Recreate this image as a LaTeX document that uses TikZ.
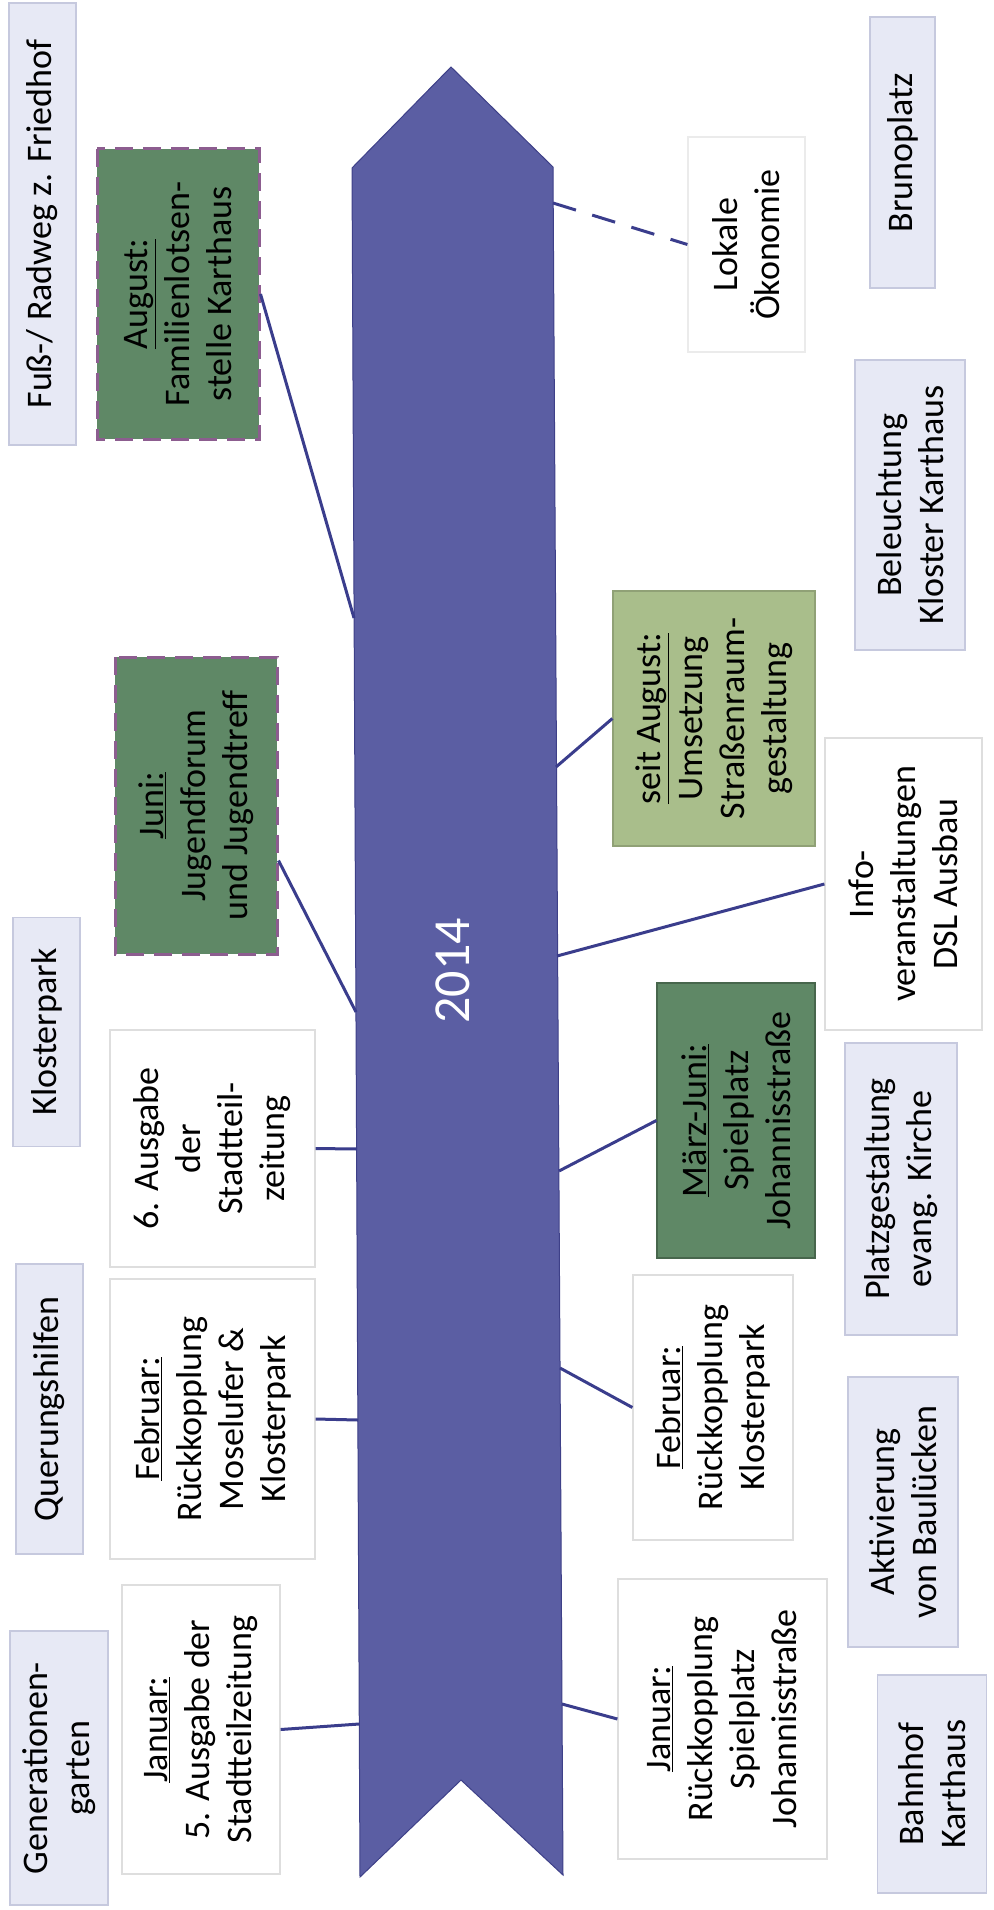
\documentclass[tikz,border=0pt]{standalone}
\usepackage{fontspec}
\setmainfont{Carlito}
\usepackage{tikz}
\usetikzlibrary{calc, positioning}
\definecolor{arrowblue}{HTML}{5B5EA3}
\definecolor{arrowedge}{HTML}{3E4088}
\definecolor{linkblue}{HTML}{3A3D8C}
\definecolor{ideafill}{HTML}{E7E9F5}
\definecolor{ideaborder}{HTML}{C6C9DE}
\definecolor{eventborder}{HTML}{DEDEDE}
\definecolor{darkgreen}{HTML}{5F8866}
\definecolor{lightgreen}{HTML}{A9BE8B}
\definecolor{dashpurple}{HTML}{8C5D8F}
\tikzstyle{ideabox} = [rectangle, rotate=90, draw=ideaborder, fill=ideafill, line width=1.5pt, align=center, inner sep=3pt]
\tikzstyle{eventbox} = [rectangle, rotate=90, draw=eventborder, fill=white, line width=1.2pt, align=center, inner sep=3pt]
\tikzstyle{donebox} = [eventbox, draw=dashpurple, fill=darkgreen, line width=3pt, dash pattern=on 18pt off 10pt]
\tikzstyle{workbox} = [eventbox, draw=darkgreen!75!black, fill=darkgreen]
\tikzstyle{planbox} = [eventbox, draw=lightgreen!85!black, fill=lightgreen]
\tikzstyle{linkline} = [line width=3pt, draw=linkblue]

\begin{document}
\begin{tikzpicture}[x=1pt, y=-1pt, font=\fontsize{36}{42}\selectfont]
		\useasboundingbox (0,0) rectangle (993,1910);
		
		% timeline arrow
		\draw [fill=arrowblue, draw=arrowedge, line width=1pt] (352,168) -- (451,67) -- (553,167) -- (563,1875) -- (461,1780) -- (360,1877) -- cycle;
		\node (Year) [rotate=90, text=white, font=\fontsize{52}{60}\selectfont] at (453,971) {2014};
		
		% ideas, left column
		\node (FussRadweg) [ideabox, minimum width=442pt, minimum height=67pt] at (42.5,224) {Fuß-/ Radweg z. Friedhof};
		\node (Klosterpark) [ideabox, minimum width=229pt, minimum height=67pt] at (46.5,1032) {Klosterpark};
		\node (Querung) [ideabox, minimum width=290pt, minimum height=67pt] at (49.5,1409) {Querungshilfen};
		\node (Generationen) [ideabox, minimum width=274pt, minimum height=98pt] at (59,1768) {Generationen-\\garten};
		
		% ideas, right column
		\node (Brunoplatz) [ideabox, minimum width=271pt, minimum height=65pt] at (902.5,152.5) {Brunoplatz};
		\node (Beleuchtung) [ideabox, minimum width=290pt, minimum height=110pt] at (910,505) {Beleuchtung\\Kloster Karthaus};
		\node (Platzgestaltung) [ideabox, minimum width=292pt, minimum height=112pt] at (901,1189) {Platzgestaltung\\evang. Kirche};
		\node (Aktivierung) [ideabox, minimum width=270pt, minimum height=110pt] at (903,1512) {Aktivierung\\von Baulücken};
		\node (Bahnhof) [ideabox, minimum width=218pt, minimum height=109pt] at (932,1784) {Bahnhof\\Karthaus};
		
		% events left of the arrow
		\node (August) [donebox, minimum width=290pt, minimum height=162pt] at (178,294) {\underline{August:}\\Familienlotsen-\\stelle Karthaus};
		\node (Juni) [donebox, minimum width=297pt, minimum height=162pt] at (196,805.5) {\underline{Juni:}\\Jugendforum\\und Jugendtreff};
		\node (Ausgabe) [eventbox, minimum width=237pt, minimum height=205pt] at (212.5,1148.5) {6. Ausgabe\\der\\Stadtteil-\\zeitung};
		\node (FebruarLeft) [eventbox, minimum width=280pt, minimum height=205pt] at (212.5,1419) {\underline{Februar:}\\Rückkopplung\\Moselufer \&\\Klosterpark};
		\node (JanuarLeft) [eventbox, minimum width=289pt, minimum height=158pt] at (201,1729.5) {\underline{Januar:}\\5. Ausgabe der\\Stadtteilzeitung};
		
		% events right of the arrow
		\node (Oekonomie) [eventbox, draw=eventborder!60, minimum width=215pt, minimum height=117pt] at (746.5,244.5) {Lokale\\Ökonomie};
		\node (SeitAugust) [planbox, minimum width=255pt, minimum height=202pt] at (714,718.5) {\underline{seit August:}\\Umsetzung\\Straßenraum-\\gestaltung};
		\node (Info) [eventbox, minimum width=292pt, minimum height=157pt] at (903.5,884) {Info-\\veranstaltungen\\DSL Ausbau};
		\node (MaerzJuni) [workbox, minimum width=275pt, minimum height=158pt] at (736,1120.5) {\underline{März-Juni:}\\Spielplatz\\Johannisstraße};
		\node (FebruarRight) [eventbox, minimum width=265pt, minimum height=160pt] at (713,1407.5) {\underline{Februar:}\\Rückkopplung\\Klosterpark};
		\node (JanuarRight) [eventbox, minimum width=280pt, minimum height=209pt] at (722.5,1719) {\underline{Januar:}\\Rückkopplung\\Spielplatz\\Johannisstraße};
		
		% ends on the arrow
		\coordinate (AugustEnd) at (354,618);
		\coordinate (JuniEnd) at (356,1012);
		\coordinate (AusgabeEnd) at (357,1149);
		\coordinate (FebruarLeftEnd) at (358,1420);
		\coordinate (JanuarLeftEnd) at (359,1724);
		\coordinate (OekonomieEnd) at (553,203);
		\coordinate (SeitAugustEnd) at (556,767);
		\coordinate (InfoEnd) at (557,956);
		\coordinate (MaerzJuniEnd) at (559,1171);
		\coordinate (FebruarRightEnd) at (560,1368);
		\coordinate (JanuarRightEnd) at (562,1704);
		
		\draw [linkline] (August.south) -- (AugustEnd);
		\draw [linkline] ($(Juni.south)+(0,55)$) -- (JuniEnd);
		\draw [linkline] (Ausgabe.south) -- (AusgabeEnd);
		\draw [linkline] (FebruarLeft.south) -- (FebruarLeftEnd);
		\draw [linkline] (JanuarLeft.south) -- (JanuarLeftEnd);
		\draw [linkline, dash pattern=on 24pt off 17pt] (OekonomieEnd) -- (Oekonomie.north);
		\draw [linkline] (SeitAugust.north) -- (SeitAugustEnd);
		\draw [linkline] (Info.north) -- (InfoEnd);
		\draw [linkline] (MaerzJuni.north) -- (MaerzJuniEnd);
		\draw [linkline] (FebruarRight.north) -- (FebruarRightEnd);
		\draw [linkline] (JanuarRight.north) -- (JanuarRightEnd);
\end{tikzpicture}
\end{document}
